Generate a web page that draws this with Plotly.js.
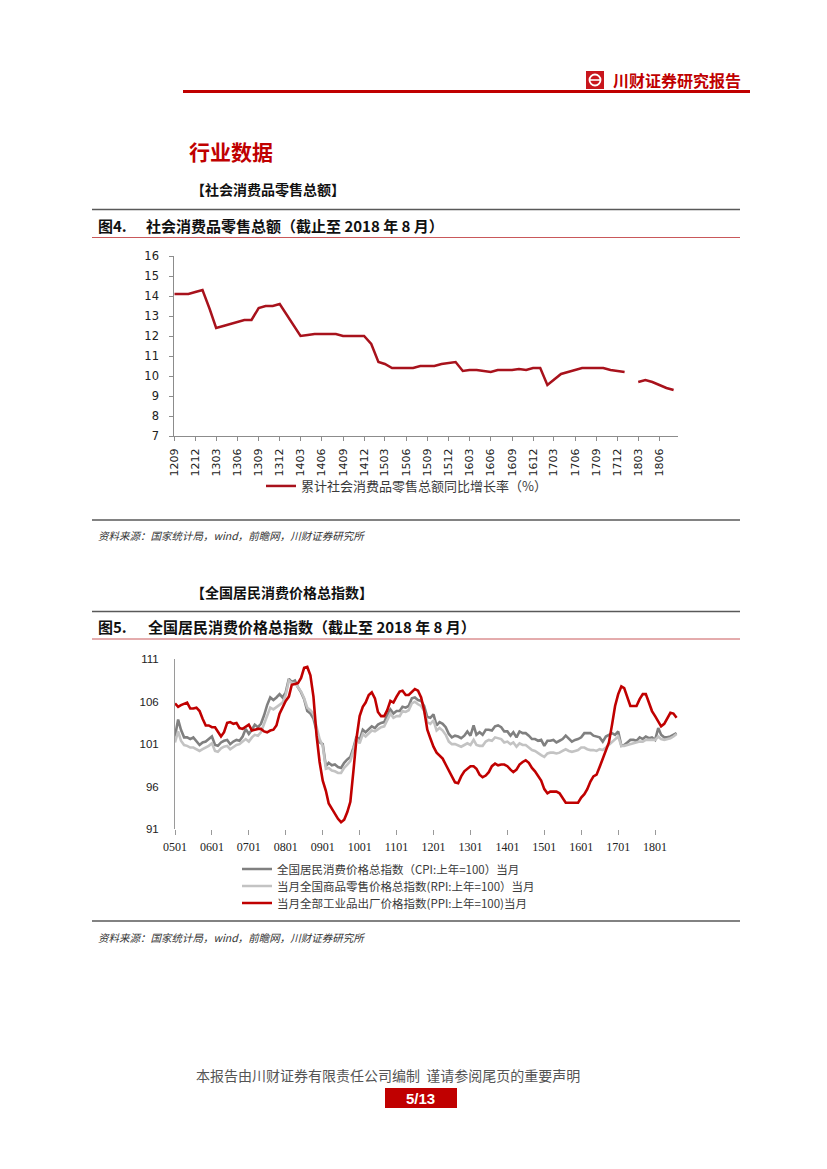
<!DOCTYPE html>
<html><head><meta charset="utf-8">
<script src="https://cdn.plot.ly/plotly-3.0.1.min.js"></script>
<style>html,body{margin:0;padding:0;background:#fff;}#page{width:827px;height:1169px;}</style>
</head><body><div id="page"></div>
<script>
// ---------- data: chart 1 (cumulative retail sales growth, %) ----------
const retailStart = [2012, 9];
const retailName = '累计社会消费品零售总额同比增长率（%）';
const retailGrowth = [14.1,14.1,14.1,14.2,14.3,13.35,12.4,12.5,12.6,12.7,12.8,12.8,
  13.4,13.5,13.5,13.6,13.05,12.5,12.0,12.05,12.1,12.1,12.1,12.1,
  12.0,12.0,12.0,12.0,11.6,10.7,10.6,10.4,10.4,10.4,10.4,10.5,
  10.5,10.5,10.6,10.65,10.7,10.25,10.3,10.3,10.25,10.2,10.3,10.3,
  10.3,10.35,10.3,10.4,10.4,9.55,9.8,10.1,10.2,10.3,10.4,10.4,
  10.4,10.4,10.3,10.25,10.2,null,9.7,9.8,9.7,9.55,9.4,9.3];
const retailYTicks = [7,8,9,10,11,12,13,14,15,16];

// ---------- data: chart 2 (price indices, previous year = 100) ----------
const priceStart = [2005, 1];
const cpiName = '全国居民消费价格总指数（CPI:上年=100）当月';
const rpiName = '当月全国商品零售价格总指数(RPI:上年=100）当月';
const ppiName = '当月全部工业品出厂价格指数(PPI:上年=100)当月';
const cpi = [
 101.9,103.9,102.7,101.8,101.8,101.6,101.8,101.3,100.9,101.2,101.3,101.6,
 101.9,100.9,100.8,101.2,101.4,101.5,101.0,101.3,101.5,101.4,101.9,102.8,
 102.2,102.7,103.3,103.0,103.4,104.4,105.6,106.5,106.2,106.5,106.9,106.5,
 107.1,108.7,108.3,108.5,107.7,107.1,106.3,104.9,104.6,104.0,102.4,101.2,
 101.0,98.4,98.8,98.5,98.6,98.3,98.2,98.8,99.2,99.5,100.6,101.9,
 101.5,102.7,102.4,102.8,103.1,102.9,103.3,103.5,103.6,104.4,105.1,104.6,
 104.9,104.9,105.4,105.3,105.5,106.4,106.5,106.2,106.1,105.5,104.2,104.1,
 104.5,103.2,103.6,103.4,103.0,102.2,101.8,102.0,101.9,101.7,102.0,102.5,
 102.0,103.2,102.1,102.4,102.1,102.7,102.7,102.6,103.1,103.2,103.0,102.5,
 102.5,102.0,102.4,101.8,102.5,102.3,102.3,102.0,101.6,101.6,101.4,101.5,
 100.8,101.4,101.4,101.5,101.2,101.4,101.6,102.0,101.6,101.3,101.5,101.6,
 101.8,102.3,102.3,102.3,102.0,101.9,101.8,101.3,101.9,102.1,102.3,102.1,
 102.5,100.8,100.9,101.2,101.5,101.5,101.4,101.8,101.6,101.9,101.7,101.8,
 101.5,102.9,102.1,101.8,101.8,101.9,102.1,102.3];
const rpi = [
 101.2,102.5,101.4,100.9,100.8,100.6,100.6,100.4,100.2,100.4,100.6,100.8,
 101.1,100.2,100.1,100.5,100.7,100.8,100.4,100.7,100.9,101.0,101.3,101.6,
 101.3,101.8,102.1,102.0,102.4,103.3,104.4,105.3,105.1,105.4,105.7,105.9,
 106.8,108.5,108.2,108.2,107.7,107.2,106.4,105.3,105.0,104.6,103.0,101.6,
 100.8,98.1,98.2,97.9,97.8,97.6,97.6,98.2,98.6,99.0,100.3,101.7,
 101.1,102.2,101.9,102.3,102.6,102.5,102.8,103.0,103.1,103.8,104.6,104.1,
 104.3,104.3,104.9,104.8,105.0,105.8,106.0,105.7,105.5,104.9,103.6,103.4,
 103.8,102.6,102.9,102.6,102.1,101.3,101.0,101.0,100.8,100.7,100.9,101.1,
 100.9,101.5,100.9,100.8,100.8,101.3,101.5,101.4,101.8,101.7,101.6,101.2,
 101.3,101.0,101.2,100.7,101.1,100.9,100.9,100.6,100.3,100.2,99.9,99.7,
 99.5,99.9,100.0,100.0,99.9,100.0,100.2,100.4,100.2,100.1,100.2,100.3,
 100.6,100.6,100.4,100.3,100.3,100.2,100.4,100.3,100.6,100.9,101.3,101.6,
 101.9,100.8,100.8,100.9,101.0,101.1,101.2,101.3,101.3,101.5,101.5,101.5,
 101.5,101.9,101.6,101.5,101.6,101.7,101.9,102.2];
const ppi = [
 105.8,105.4,105.6,105.8,105.9,105.2,105.2,105.3,104.9,104.0,103.2,103.2,
 103.0,103.0,102.5,101.9,102.4,103.5,103.6,103.4,103.5,102.9,102.8,103.1,
 103.3,102.6,102.7,102.8,102.8,102.5,102.4,102.6,102.7,103.2,104.6,105.4,
 106.1,106.6,108.0,108.1,108.2,108.8,110.0,110.1,109.1,106.6,102.0,98.9,
 96.7,95.5,94.0,93.4,92.8,92.2,91.8,92.1,93.0,94.2,97.9,101.7,
 104.3,105.4,105.9,106.8,107.1,106.4,104.8,104.3,104.3,105.0,106.1,105.9,
 106.6,107.2,107.3,106.8,106.8,107.1,107.5,107.3,106.5,105.0,102.7,101.7,
 100.7,100.0,99.7,99.3,98.6,97.9,97.1,96.5,96.4,97.2,97.8,98.1,
 98.4,98.4,98.1,97.4,97.1,97.3,97.7,98.4,98.7,98.5,98.6,98.6,
 98.4,98.0,97.7,98.0,98.6,98.9,99.1,98.8,98.2,97.8,97.3,96.7,
 95.7,95.2,95.4,95.4,95.4,95.2,94.6,94.1,94.1,94.1,94.1,94.1,
 94.7,95.1,95.7,96.6,97.2,97.4,98.3,99.2,100.1,101.2,103.3,105.5,
 106.9,107.8,107.6,106.4,105.5,105.5,105.5,106.3,106.9,106.9,105.8,104.9,
 104.3,103.7,103.1,103.4,104.1,104.7,104.6,104.1];
const priceYTicks = [91,96,101,106,111];

// ---------- helpers ----------
function monthSeq(start, n){
  const out=[]; let y=start[0], m=start[1];
  for(let i=0;i<n;i++){ out.push(y+'-'+String(m).padStart(2,'0')+'-01'); m++; if(m>12){m=1;y++;} }
  return out;
}
const W=827, H=1169;
const X = p => p/W;
const Y = p => 1 - p/H;
const CJK = '"Noto Sans CJK SC", "Noto Sans", sans-serif';
const RED = '#C00000';

const retailX = monthSeq(retailStart, retailGrowth.length);
const priceX = monthSeq(priceStart, cpi.length);

const traces = [
  {x: retailX, y: retailGrowth, type:'scatter', mode:'lines', name: retailName,
   line:{color:'#A8121C', width:2.5}, connectgaps:false, xaxis:'x', yaxis:'y', legend:'legend', hoverinfo:'skip'},
  {x: priceX, y: cpi, type:'scatter', mode:'lines', name: cpiName,
   line:{color:'#808080', width:2.6}, xaxis:'x2', yaxis:'y2', legend:'legend2', hoverinfo:'skip'},
  {x: priceX, y: rpi, type:'scatter', mode:'lines', name: rpiName,
   line:{color:'#C3C3C3', width:2.6}, xaxis:'x2', yaxis:'y2', legend:'legend3', hoverinfo:'skip'},
  {x: priceX, y: ppi, type:'scatter', mode:'lines', name: ppiName,
   line:{color:'#C00000', width:2.6}, xaxis:'x2', yaxis:'y2', legend:'legend4', hoverinfo:'skip'}
];

function hline(y, x0, x1, color, w){
  return {type:'line', xref:'paper', yref:'paper', x0:X(x0), x1:X(x1), y0:Y(y), y1:Y(y), line:{color:color, width:w}};
}
const shapes = [
  hline(91.5, 183, 750, RED, 3),
  {type:'rect', xref:'paper', yref:'paper', x0:X(586), x1:X(604), y0:Y(89), y1:Y(71), fillcolor:'#C8161D', line:{width:0}},
  {type:'circle', xref:'paper', yref:'paper', x0:X(589.5), x1:X(600.5), y0:Y(85.5), y1:Y(74.5), line:{color:'#fff', width:1.8}},
  hline(80, 590, 600, '#fff', 1.6),
  hline(209.5, 92, 740, '#595959', 1.5),
  hline(237.5, 92, 740, '#C9585A', 1),
  hline(520, 92, 740, '#595959', 1.5),
  hline(611.5, 92, 740, '#595959', 1.5),
  hline(639, 92, 740, '#C9585A', 1),
  hline(921, 92, 740, '#595959', 1.5),
  {type:'rect', xref:'paper', yref:'paper', x0:X(385), x1:X(457), y0:Y(1108), y1:Y(1088), fillcolor:'#C00000', line:{width:0}}
];

function ann(text, x, y, size, color, extra){
  return Object.assign({text:text, xref:'paper', yref:'paper', x:X(x), y:Y(y), xanchor:'left', yanchor:'middle',
    showarrow:false, font:{family:CJK, size:size, color:color}}, extra||{});
}
const annotations = [
  ann('<b>川财证券研究报告</b>', 611, 80, 16, RED),
  ann('<b>行业数据</b>', 187, 151, 21, RED),
  ann('<b>【社会消费品零售总额】</b>', 189, 189, 14, '#111'),
  ann('<b>图4.</b>', 96, 225, 15, '#111'),
  ann('<b>社会消费品零售总额（截止至 2018 年 8 月）</b>', 144, 225, 15, '#111'),
  ann('<i>资料来源：国家统计局，wind，前瞻网，川财证券研究所</i>', 96, 536, 10.5, '#333'),
  ann('<b>【全国居民消费价格总指数】</b>', 189, 592, 14, '#111'),
  ann('<b>图5.</b>', 96, 626, 15, '#111'),
  ann('<b>全国居民消费价格总指数（截止至 2018 年 8 月）</b>', 146, 626, 15, '#111'),
  ann('<i>资料来源：国家统计局，wind，前瞻网，川财证券研究所</i>', 96, 937, 10.5, '#333'),
  ann('本报告由川财证券有限责任公司编制  谨请参阅尾页的重要声明', 387.5, 1075, 14, '#555', {xanchor:'center'}),
  ann('<b>5/13</b>', 421, 1098.5, 15, '#fff', {xanchor:'center', font:{family:'Liberation Sans, Arial, sans-serif', size:15, color:'#fff'}})
];

function legendAt(x, y, size){
  return {x:X(x), y:Y(y), xanchor:'left', yanchor:'middle', bgcolor:'rgba(0,0,0,0)', borderwidth:0,
    font:{family:CJK, size:size, color:'#3a3a3a'}};
}

const layout = {
  width:W, height:H, margin:{l:0,r:0,t:0,b:0}, paper_bgcolor:'#fff', plot_bgcolor:'#fff',
  showlegend:true,
  xaxis:{domain:[X(174.3), X(678)], type:'date', range:['2012-09-01','2018-08-20'],
    tick0:'2012-09-01', dtick:'M3', tickformat:'%y%m', tickangle:-90,
    ticks:'outside', ticklen:4, tickcolor:'#8c8c8c', showline:true, linecolor:'#8c8c8c', linewidth:1,
    showgrid:false, zeroline:false, ticklabelstandoff:3,
    tickfont:{family:'DejaVu Sans, sans-serif', size:11, color:'#222'}, fixedrange:true},
  yaxis:{domain:[Y(436), Y(256)], range:[7,16], tickvals:retailYTicks,
    ticks:'outside', ticklen:4, tickcolor:'#8c8c8c', showline:true, linecolor:'#8c8c8c', linewidth:1,
    showgrid:false, zeroline:false, ticklabelstandoff:8,
    tickfont:{family:'DejaVu Sans, sans-serif', size:11.5, color:'#222'}, fixedrange:true},
  xaxis2:{domain:[X(175), X(680)], type:'date', range:['2005-01-01','2018-09-04'], anchor:'y2',
    tick0:'2005-01-01', dtick:'M12', tickformat:'%y%m', tickangle:0,
    ticks:'outside', ticklen:5, tickcolor:'#9a9a9a', showline:false,
    showgrid:false, zeroline:false, ticklabelstandoff:2,
    tickfont:{family:'Liberation Serif, serif', size:12, color:'#222'}, fixedrange:true},
  yaxis2:{domain:[Y(829), Y(659.3)], range:[91,111], tickvals:priceYTicks, anchor:'x2',
    ticks:'', showline:true, linecolor:'#9a9a9a', linewidth:1,
    showgrid:false, zeroline:false, ticklabelstandoff:13,
    tickfont:{family:'Liberation Sans, sans-serif', size:11.5, color:'#222'}, fixedrange:true},
  legend: legendAt(261, 486, 13),
  legend2: legendAt(237, 869, 11.5),
  legend3: legendAt(237, 886, 11.5),
  legend4: legendAt(237, 903, 11.5),
  shapes: shapes,
  annotations: annotations
};

Plotly.newPlot('page', traces, layout, {staticPlot:true, displayModeBar:false});
</script>
</body></html>
